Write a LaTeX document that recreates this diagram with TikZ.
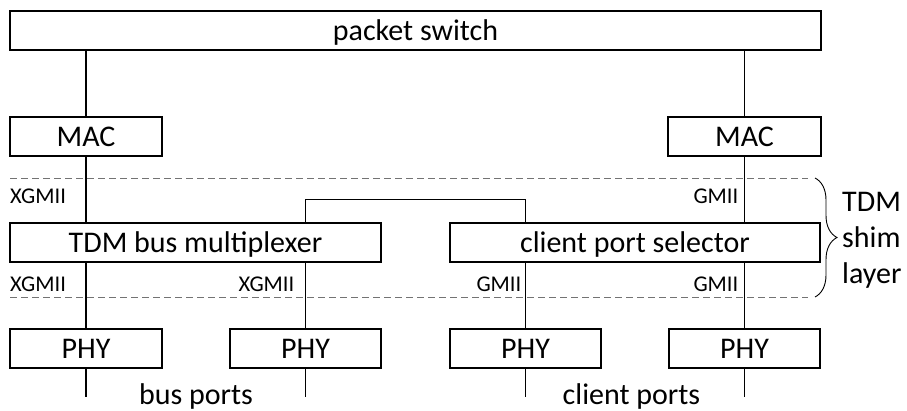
\documentclass[tikz,border=0pt]{standalone}
\usepackage{fontspec}
\setmainfont{Carlito}
\usetikzlibrary{decorations.pathreplacing}
\newcommand\bigf{\fontsize{30}{36}\selectfont}
\newcommand\smallf{\fontsize{22.5}{27}\selectfont}
\tikzset{
  blk/.style={draw=black, line width=1.2pt, fill=white, inner sep=0pt,
    minimum height=39pt, text height=19.5pt, text depth=0pt, font=\bigf},
  wire/.style={draw=black, line width=1.1pt},
  layerline/.style={draw=black!55, line width=0.9pt, dash pattern=on 7pt off 4pt},
  iflabel/.style={inner sep=0pt, font=\smallf, text height=14.5pt, text depth=0pt},
  portlabel/.style={inner sep=0pt, font=\bigf, anchor=base},
}
\begin{document}
\begin{tikzpicture}[x=1pt,y=-1pt]
\useasboundingbox (0,0) rectangle (907,411);
% boxes
\node[blk, minimum width=811pt] (ps) at (415.5,30.5) {packet switch};
\node[blk, minimum width=152pt] (macL) at (86,136.5) {MAC};
\node[blk, minimum width=153pt] (macR) at (744.5,136.5) {MAC};
\node[blk, minimum width=371pt] (mux) at (195.5,242.5) {TDM bus multiplexer};
\node[blk, minimum width=370pt] (sel) at (635,242.5) {client port selector};
\node[blk, minimum width=152pt] (phy1) at (86,348.5) {PHY};
\node[blk, minimum width=151pt] (phy2) at (305.5,348.5) {PHY};
\node[blk, minimum width=151pt] (phy3) at (525.5,348.5) {PHY};
\node[blk, minimum width=151pt] (phy4) at (744.5,348.5) {PHY};
% port ends
\coordinate (e1) at (86,397);
\coordinate (e2) at (305.5,397);
\coordinate (e3) at (525.5,397);
\coordinate (e4) at (744.5,397);
% connectors
\draw[wire] (macL.north) -- (macL.north |- ps.south);
\draw[wire] (macR.north) -- (macR.north |- ps.south);
\draw[wire] (macL.south) -- (macL.south |- mux.north);
\draw[wire] (macR.south) -- (macR.south |- sel.north);
\draw[wire] (phy1.north) -- (phy1.north |- mux.south);
\draw[wire] (phy2.north) -- (phy2.north |- mux.south);
\draw[wire] (phy3.north) -- (phy3.north |- sel.south);
\draw[wire] (phy4.north) -- (phy4.north |- sel.south);
\draw[wire] (phy2.north |- mux.north) -- ++(0,-23) -| (phy3.north |- sel.north);
\draw[wire] (phy1.south) -- (e1);
\draw[wire] (phy2.south) -- (e2);
\draw[wire] (phy3.south) -- (e3);
\draw[wire] (phy4.south) -- (e4);
% layer boundaries
\coordinate (dl1) at (10,178);
\coordinate (dr1) at (808,178);
\coordinate (dl2) at (10,297);
\coordinate (dr2) at (808,297);
\draw[layerline] (dl1) -- (dr1);
\draw[layerline] (dl2) -- (dr2);
% brace
\coordinate (bt) at (815,178);
\coordinate (bb) at (815,297);
\draw[line width=0.9pt, decorate, decoration={brace, amplitude=22pt}] (bt) -- (bb);
\node[anchor=west, align=left, inner sep=0pt, font=\bigf] (shim) at (842,240) {TDM\\shim\\layer};
% interface labels
\node[iflabel, anchor=west] (x1) at (10,196) {XGMII};
\node[iflabel, anchor=east] (g1) at (738.5,196.5) {GMII};
\node[iflabel, anchor=west] (x2) at (10,284.5) {XGMII};
\node[iflabel, anchor=east] (x3) at (294.5,284.5) {XGMII};
\node[iflabel, anchor=east] (g2) at (521.5,284.5) {GMII};
\node[iflabel, anchor=east] (g3) at (738.5,284.5) {GMII};
% port labels
\node[portlabel] (bp) at (196,404) {bus ports};
\node[portlabel] (cp) at (631.5,404) {client ports};
\end{tikzpicture}
\end{document}
